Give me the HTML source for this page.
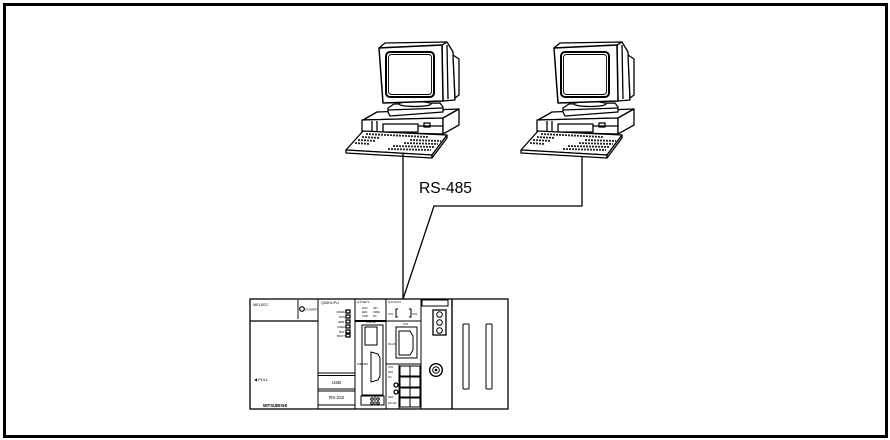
<!DOCTYPE html>
<html><head><meta charset="utf-8"><style>
html,body{margin:0;padding:0;background:#fff;}
svg{display:block;}
text{font-family:"Liberation Sans",sans-serif;}
</style></head><body>
<svg width="890" height="440" viewBox="0 0 890 440" xmlns="http://www.w3.org/2000/svg">
<rect x="0" y="0" width="890" height="440" fill="#fff"/>
<rect x="4.5" y="4.5" width="882" height="432" fill="none" stroke="#000" stroke-width="3"/>

<defs>
<g id="pc" stroke="#000" stroke-width="1.3" fill="#fff" stroke-linejoin="round">
  <!-- base box -->
  <polygon points="363,120 377,112 459,109 443,118"/>
  <polygon points="362,120 443,118 443,134 362,132"/>
  <polygon points="443,118 459,109 459,125 443,134"/>
  <rect x="383" y="124" width="35" height="8" fill="#fff"/>
  <line x1="372" y1="121" x2="372" y2="131"/>
  <line x1="377" y1="121" x2="377" y2="131"/>
  <rect x="424" y="123" width="6" height="4"/>
  <line x1="418" y1="126" x2="443" y2="126"/>
  <!-- monitor stand -->
  <polygon points="388,108 394,104 440,103 443,107 443,112 390,116 388,112"/>
  <line x1="388" y1="110" x2="443" y2="108"/>
  <ellipse cx="415" cy="104" rx="16" ry="2.5"/>
  <!-- monitor back/side -->
  <polygon points="442,45 447,42 453,52 455,100 443,101"/>
  <polygon points="453,55 459,59 459,95 455,98"/>
  <line x1="447" y1="45" x2="448" y2="99"/>
  <!-- top -->
  <polygon points="379,48 385,43 447,42 442,45"/>
  <!-- front bezel -->
  <polygon points="379,48 442,45 443,101 383,103" stroke-width="1.5"/>
  <rect x="386" y="52" width="48" height="45" rx="4" fill="#fff" stroke-width="2"/>
  <rect x="388.5" y="54.5" width="43" height="40" rx="3" fill="#fff" stroke-width="0.9"/>
  <!-- keyboard -->
  <polygon points="363,131 447,135 432,155 346,150"/>
  <polygon points="346,150 432,155 432,158 346,153"/>
  <polygon points="432,155 447,135 447,138 432,158"/>
  <g stroke="#222" stroke-width="1.8" stroke-dasharray="2 1" fill="none">
    <line x1="366" y1="134" x2="428" y2="137"/>
    <line x1="362" y1="137" x2="380" y2="138"/>
    <line x1="358" y1="140" x2="376" y2="141"/>
    <line x1="355" y1="143" x2="370" y2="144"/>
    <line x1="410" y1="140" x2="441" y2="141"/>
    <line x1="404" y1="143" x2="438" y2="144"/>
    <line x1="393" y1="146" x2="435" y2="147"/>
    <line x1="388" y1="149" x2="431" y2="150"/>
  </g>
</g>
</defs>

<use href="#pc"/>
<use href="#pc" transform="translate(175,0)"/>

<!-- cables -->
<g stroke="#000" stroke-width="1.3" fill="none">
  <line x1="403" y1="153" x2="403" y2="299"/>
  <polyline points="582,157 582,206 434,206 403,299"/>
</g>
<text x="419" y="193" font-size="16" textLength="53" lengthAdjust="spacingAndGlyphs" fill="#000">RS-485</text>

<!-- PLC -->
<g stroke="#000" fill="#fff" stroke-width="1">
  <rect x="250" y="299" width="258" height="110" stroke-width="1.3"/>
  <line x1="318" y1="299" x2="318" y2="409"/>
  <line x1="355" y1="299" x2="355" y2="409"/>
  <line x1="386" y1="299" x2="386" y2="409"/>
  <line x1="421" y1="299" x2="421" y2="409"/>
  <line x1="452" y1="299" x2="452" y2="409" stroke-width="1.4"/>
  <!-- power module -->
  <line x1="250" y1="321" x2="318" y2="321" stroke-width="1.3"/>
  <line x1="298" y1="300" x2="298" y2="319" stroke="#888" stroke-width="2"/>
  <circle cx="302" cy="309" r="2.3" stroke-width="1.2"/>
  <!-- CPU -->
  <g stroke-width="1.3">
    <rect x="346" y="310" width="4" height="3"/>
    <rect x="346" y="315" width="4" height="3"/>
    <rect x="346" y="320" width="4" height="3"/>
    <rect x="346" y="325" width="4" height="3"/>
    <rect x="346" y="330" width="4" height="3"/>
    <rect x="346" y="334" width="4" height="3"/>
  </g>
  <line x1="318" y1="373" x2="355" y2="373"/>
  <line x1="318" y1="375.5" x2="355" y2="375.5"/>
  <line x1="318" y1="389" x2="355" y2="389"/>
  <line x1="318" y1="391" x2="355" y2="391"/>
  <line x1="318" y1="405" x2="355" y2="405"/>
  <!-- module 3 -->
  <line x1="355" y1="321" x2="386" y2="321" stroke-width="2"/>
  <rect x="362" y="325" width="21" height="70"/>
  <rect x="365" y="327" width="12" height="18"/>
  <path d="M371,352 L378,354 L380,358 L380,376 L378,380 L371,382 Z"/>
  <rect x="361" y="396" width="23" height="9"/>
  <circle cx="372" cy="399" r="1.3"/>
  <circle cx="378" cy="399" r="1.3"/>
  <circle cx="372" cy="403" r="1.3"/>
  <circle cx="378" cy="403" r="1.3"/>
  <line x1="375" y1="396" x2="375" y2="405"/>
  <!-- module 4 -->
  <line x1="386" y1="321" x2="421" y2="321"/>
  <path d="M398,309 L396,309 L396,317 L398,317" fill="none"/>
  <path d="M409,309 L411,309 L411,317 L409,317" fill="none"/>
  <rect x="396" y="327" width="21" height="31"/>
  <path d="M399,331 L410,331 L413,336 L413,350 L410,355 L399,355 Z"/>
  <line x1="386" y1="364" x2="421" y2="364"/>
  <line x1="399" y1="365" x2="399" y2="409"/>
  <rect x="400" y="366" width="10" height="10"/>
  <rect x="400" y="377" width="10" height="10"/>
  <rect x="400" y="388" width="10" height="9"/>
  <rect x="400" y="398" width="10" height="9"/>
  <rect x="410" y="366" width="10" height="10"/>
  <rect x="410" y="377" width="10" height="10"/>
  <rect x="410" y="388" width="10" height="9"/>
  <rect x="410" y="398" width="10" height="9"/>
  <circle cx="396" cy="385" r="2" stroke-width="1.3"/>
  <circle cx="396" cy="392" r="2" stroke-width="1.3"/>
  <!-- module 5 -->
  <rect x="422" y="300" width="26" height="6"/>
  <rect x="433" y="310" width="13" height="25" stroke-width="1.3"/>
  <circle cx="439.5" cy="314.5" r="2.8"/>
  <circle cx="439.5" cy="322.5" r="2.8"/>
  <circle cx="439.5" cy="330.5" r="2.8"/>
  <circle cx="436" cy="370" r="6.3" stroke-width="1.4"/>
  <circle cx="436" cy="370" r="3.3"/>
  <circle cx="436" cy="370" r="0.8" fill="#000"/>
  <!-- module 6 -->
  <rect x="463" y="324" width="6" height="65" rx="1"/>
  <rect x="486" y="324" width="6" height="65" rx="1"/>
</g>
<g fill="#000" font-size="3.8">
  <text x="253" y="306">MELSEC</text>
  <text x="305.5" y="310.5" font-size="3">POWER</text>
  <text x="254" y="381" font-size="4">◀ PULL</text>
  <text x="263" y="407" font-size="4.2" font-weight="bold">MITSUBISHI</text>
  <text x="321" y="304">Q06HCPU</text>
  <g font-size="2.8" text-anchor="end">
    <text x="345" y="313">MODE</text>
    <text x="345" y="318">RUN</text>
    <text x="345" y="323">ERR.</text>
    <text x="345" y="328">USER</text>
    <text x="345" y="333">BAT.</text>
    <text x="345" y="337">BOOT</text>
  </g>
  <text x="336.5" y="384" text-anchor="middle" font-size="4.5">USB</text>
  <text x="336.5" y="399" text-anchor="middle" font-size="4.5">RS-232</text>
  <text x="357" y="303" font-size="3">QJ71E71</text>
  <g font-size="2.5">
    <text x="362" y="309">RUN</text><text x="373" y="309">INIT.</text>
    <text x="362" y="313">ERR.</text><text x="373" y="313">OPEN</text>
    <text x="362" y="317">COM</text><text x="373" y="317">SD</text>
    <text x="366" y="323">10BASE</text>
    <text x="357" y="365">10BASE5</text>
  </g>
  <text x="388" y="303" font-size="3">QJ71C24</text>
  <g font-size="2.5">
    <text x="388" y="315">CH1.</text>
    <text x="412" y="315">CH2.</text>
    <text x="403" y="325">CH1</text>
    <text x="388" y="345">RS-232</text>
    <text x="388" y="368">CH2</text>
    <text x="388" y="373">SDA</text>
    <text x="388" y="378">SG</text>
    <text x="388" y="398">RDA</text>
    <text x="388" y="404">RS-422</text>
  </g>
</g>
</svg>
</body></html>
